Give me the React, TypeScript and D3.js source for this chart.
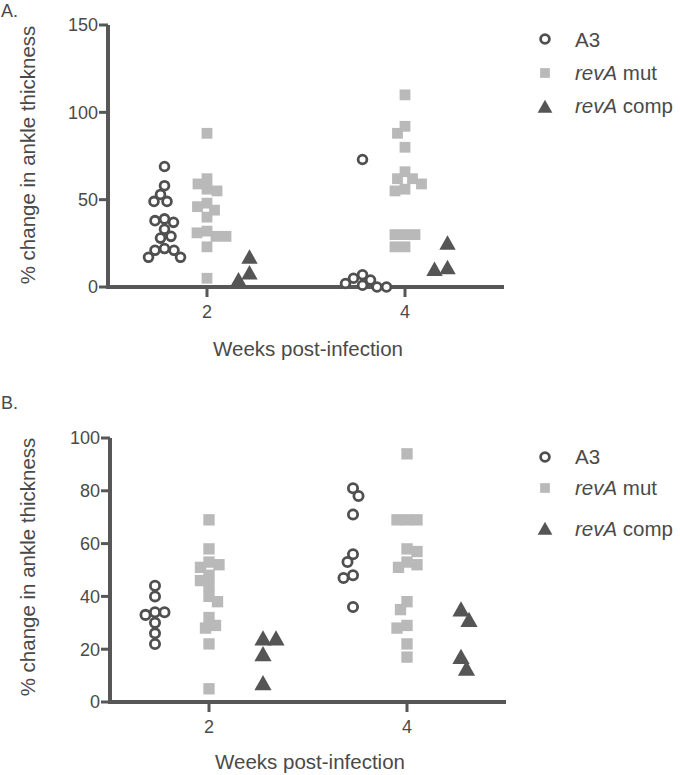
import React from "react";
import * as d3 from "d3";

// ---------- DATA ----------
const weeks = [2, 4];
const seriesNames = ["A3", "revA mut", "revA comp"];

// Panel A (% change, weeks 2 and 4)
const aA3W2 = [69, 58, 53, 49, 49, 39, 38, 37, 33, 29, 28, 22, 21, 21, 17, 17];
const aMutW2 = [88, 62, 59, 56, 55, 48, 46, 44, 40, 32, 31, 29, 29, 23, 5];
const aCompW2 = [17, 4, 8];
const aA3W4 = [73, 7, 5, 4, 2, 1, 0, 0];
const aMutW4 = [110, 92, 88, 80, 66, 62, 62, 59, 56, 55, 30, 30, 30, 23, 23];
const aCompW4 = [25, 10, 11];
const aTicks = [0, 50, 100, 150];

// Panel B
const bA3W2 = [44, 40, 34, 33, 34, 30, 26, 22];
const bMutW2 = [69, 58, 53, 52, 51, 48, 46, 44, 40, 38, 32, 28, 29, 22, 5];
const bCompW2 = [24, 24, 18, 7];
const bA3W4 = [81, 78, 71, 56, 53, 48, 47, 36];
const bMutW4 = [94, 69, 69, 69, 58, 57, 53, 52, 51, 38, 35, 29, 28, 22, 17];
const bCompW4 = [35, 31, 17, 12.5];
const bTicks = [0, 20, 40, 60, 80, 100];

// ---------- STYLE ----------
const AXIS = "#575757";
const TEXT = "#4a4a4a";
const CIRCLE = "#505050";
const SQUARE = "#b9b9b9";
const TRI = "#555555";
const FONT = "'Liberation Sans', Arial, sans-serif";

function swarm(values: number[], y: (v: number) => number, D: number): number[] {
  const order = values.map((_, i) => i).sort((a, b) => values[b] - values[a]);
  const placed: { x: number; y: number }[] = [];
  const out: number[] = new Array(values.length).fill(0);
  order.forEach((i, k) => {
    const yy = y(values[i]);
    let best = 0;
    outer: for (let off = 0; off < 200; off += 0.5) {
      const cands = off === 0 ? [0] : k % 2 ? [off, -off] : [-off, off];
      for (const x of cands) {
        if (placed.every((p) => (p.x - x) ** 2 + (p.y - yy) ** 2 >= D * D)) {
          best = x;
          break outer;
        }
      }
    }
    placed.push({ x: best, y: yy });
    out[i] = best;
  });
  return out;
}

function Marker({ kind, x, y, s = 1 }: { kind: number; x: number; y: number; s?: number }) {
  if (kind === 0)
    return <circle cx={x} cy={y} r={4.4 * s} fill="white" stroke={CIRCLE} strokeWidth={2.8} />;
  if (kind === 1) {
    const h = 5.4 * s;
    return <rect x={x - h} y={y - h} width={2 * h} height={2 * h} fill={SQUARE} />;
  }
  const w = 8.2 * s;
  const tri = d3.line()([
    [x - w, y + 6.5 * s],
    [x + w, y + 6.5 * s],
    [x, y - 8 * s],
  ]);
  return <path d={tri + "Z"} fill={TRI} />;
}

type PanelProps = {
  label: string;
  yDomainMax: number;
  yTicks: number[];
  yRange: [number, number];
  xRange: [number, number];
  groupOffset: number;
  groups: number[][][]; // [week][series]
  legendY: number[];
  legendTextY: number[];
  labelY: number;
  ytitleY: number;
  xtitleY: number;
  markerScale: number;
};

function Panel(p: PanelProps) {
  const y = d3.scaleLinear().domain([0, p.yDomainMax]).range(p.yRange);
  const x = d3.scaleLinear().domain([1, 5]).range(p.xRange);
  const [x0, x1] = p.xRange;
  const y0 = p.yRange[0];
  const yTop = p.yRange[1];
  const offsets = [-p.groupOffset, 0, p.groupOffset];
  const D = [9.5, 10, 13];
  return (
    <g>
      <text x={1} y={p.labelY} fontSize={18} fill={TEXT} fontFamily={FONT}>
        {p.label}
      </text>
      {/* y axis */}
      <line x1={x0} x2={x0} y1={y0 + 2} y2={yTop} stroke={AXIS} strokeWidth={4} />
      {p.yTicks.map((t) => (
        <g key={t}>
          <line x1={x0 - 9} x2={x0} y1={y(t)} y2={y(t)} stroke={AXIS} strokeWidth={3} />
          <text
            x={x0 - 10}
            y={y(t)}
            dy="0.36em"
            textAnchor="end"
            fontSize={18}
            fill={TEXT}
            fontFamily={FONT}
          >
            {t}
          </text>
        </g>
      ))}
      {/* x axis */}
      <line x1={x0} x2={x1} y1={y0} y2={y0} stroke={AXIS} strokeWidth={4} />
      {weeks.map((w) => (
        <g key={w}>
          <line x1={x(w)} x2={x(w)} y1={y0} y2={y0 + 10} stroke={AXIS} strokeWidth={3} />
          <text
            x={x(w)}
            y={y0 + 31}
            textAnchor="middle"
            fontSize={18}
            fill={TEXT}
            fontFamily={FONT}
          >
            {w}
          </text>
        </g>
      ))}
      <text
        x={(x0 + x1) / 2 + 2}
        y={p.xtitleY}
        textAnchor="middle"
        fontSize={20.5}
        fill={TEXT}
        fontFamily={FONT}
      >
        Weeks post-infection
      </text>
      <text
        transform={`translate(35,${p.ytitleY}) rotate(-90)`}
        textAnchor="middle"
        fontSize={20.5}
        fill={TEXT}
        fontFamily={FONT}
      >
        % change in ankle thickness
      </text>
      {/* points: draw squares, then circles, then triangles */}
      {[1, 0, 2].map((s) =>
        weeks.map((w, wi) => {
          const vals = p.groups[wi][s];
          const jit = swarm(vals, y, D[s]);
          return vals.map((v, i) => (
            <Marker
              key={`${s}-${w}-${i}`}
              kind={s}
              x={x(w) + offsets[s] + jit[i]}
              y={y(v)}
              s={p.markerScale}
            />
          ));
        })
      )}
      {/* legend */}
      {seriesNames.map((n, i) => (
        <g key={n}>
          <Marker kind={i} x={545} y={p.legendY[i]} s={i === 0 ? 1 : 0.9} />
          <text x={575} y={p.legendTextY[i]} fontSize={20.5} fill={TEXT} fontFamily={FONT}>
            {i === 0 ? (
              n
            ) : (
              <>
                <tspan fontStyle="italic">revA</tspan>
                <tspan>{n.replace("revA", "")}</tspan>
              </>
            )}
          </text>
        </g>
      ))}
    </g>
  );
}

export default function App() {
  return (
    <svg
      width={680}
      height={775}
      style={{ position: "absolute", left: 0, top: 0, background: "white" }}
    >
      <Panel
        label="A."
        yDomainMax={150}
        yTicks={aTicks}
        yRange={[287, 25]}
        xRange={[108, 504]}
        groupOffset={42.5}
        groups={[
          [aA3W2, aMutW2, aCompW2],
          [aA3W4, aMutW4, aCompW4],
        ]}
        legendY={[39, 73, 107]}
        legendTextY={[47, 80, 113]}
        labelY={17}
        ytitleY={155}
        xtitleY={356}
        markerScale={1}
      />
      <Panel
        label="B."
        yDomainMax={100}
        yTicks={bTicks}
        yRange={[702, 438]}
        xRange={[110, 506]}
        groupOffset={54}
        groups={[
          [bA3W2, bMutW2, bCompW2],
          [bA3W4, bMutW4, bCompW4],
        ]}
        legendY={[457, 488, 529]}
        legendTextY={[464, 495, 536]}
        labelY={409}
        ytitleY={567}
        xtitleY={769}
        markerScale={1.05}
      />
    </svg>
  );
}
